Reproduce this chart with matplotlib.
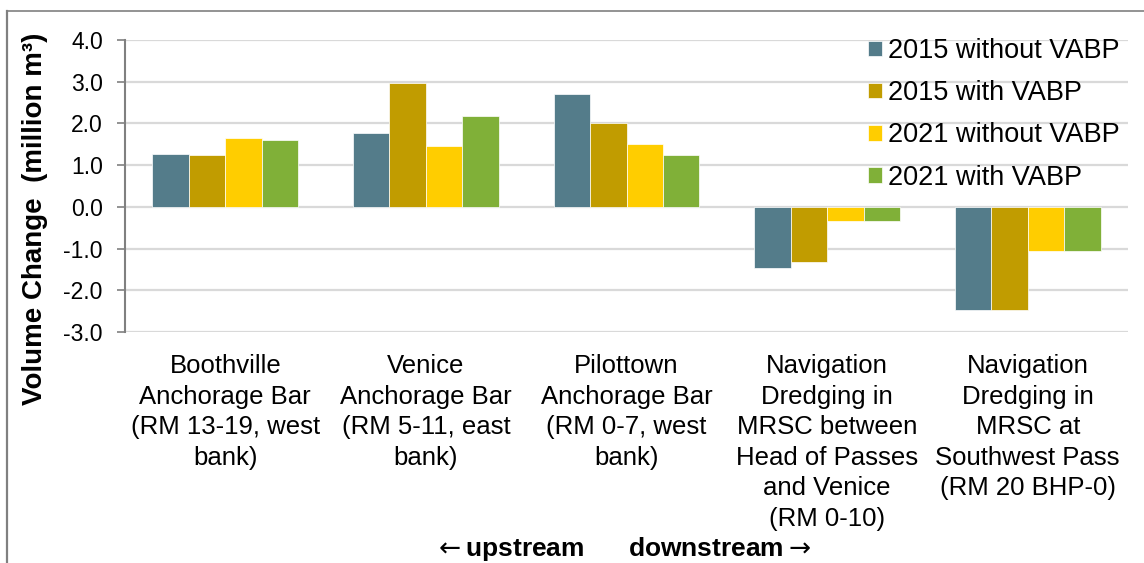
import numpy as np
import matplotlib.pyplot as plt
from matplotlib.lines import Line2D

plt.rcParams['font.family'] = ['Liberation Sans', 'DejaVu Sans']

# data
categories = [
    'Boothville\nAnchorage Bar\n(RM 13-19, west\nbank)',
    'Venice\nAnchorage Bar\n(RM 5-11, east\nbank)',
    'Pilottown\nAnchorage Bar\n(RM 0-7, west\nbank)',
    'Navigation\nDredging in\nMRSC between\nHead of Passes\nand Venice\n(RM 0-10)',
    'Navigation\nDredging in\nMRSC at\nSouthwest Pass\n(RM 20 BHP-0)',
]
series_names = ['2015 without VABP', '2015 with VABP', '2021 without VABP', '2021 with VABP']
v2015_without = [1.26, 1.76, 2.71, -1.46, -2.48]
v2015_with = [1.24, 2.97, 2.00, -1.33, -2.48]
v2021_without = [1.64, 1.46, 1.51, -0.35, -1.05]
v2021_with = [1.61, 2.17, 1.24, -0.35, -1.05]
yticks = [-3, -2, -1, 0, 1, 2, 3, 4]

colors = ['#547C8A', '#C19C00', '#FFCD00', '#80B038']

fig = plt.figure(figsize=(11.44, 5.63), dpi=100)
ax = fig.add_axes([125/1144, 1-332/563, (1128-125)/1144, (332-40)/563])

x = np.arange(len(categories))
w = 0.1815
all_series = [v2015_without, v2015_with, v2021_without, v2021_with]
for i, (vals, name, c) in enumerate(zip(all_series, series_names, colors)):
    ax.bar(x + (i - 1.5) * w, vals, width=w, color=c, label=name,
           edgecolor='white', linewidth=0.5, zorder=3)

ax.set_xlim(-0.5, 4.5)
ax.set_ylim(-3, 4)
ax.set_yticks(yticks)
ax.set_yticklabels([f'{t:.1f}' for t in yticks], fontsize=16.5)
ax.set_xticks(x)
ax.set_xticklabels(categories, fontsize=18.5, linespacing=1.34, va='top')
ax.tick_params(axis='x', length=0, pad=16)
ax.tick_params(axis='y', length=6, width=1.2, color='#808080', direction='out', pad=10)
ax.grid(axis='y', color='#D9D9D9', linewidth=1.6, zorder=0)
for s in ['top', 'right', 'bottom']:
    ax.spines[s].set_visible(False)
ax.spines['left'].set_color('#808080')
ax.spines['left'].set_linewidth(1.5)
ax.spines['left'].set_zorder(4)

leg = ax.legend(loc='upper right', bbox_to_anchor=(1120/1144, 1-38/563),
                bbox_transform=fig.transFigure, frameon=False, fontsize=19.5,
                handlelength=0.52, handleheight=0.5, handletextpad=0.22,
                labelspacing=0.6, borderpad=0, borderaxespad=0)

fig.text(35/1144, 1-219/563, 'Volume Change  (million m³)', rotation=90,
         fontsize=20, fontweight='bold', ha='center', va='center')
fig.text(622/1144, 1-549/563, r'$\leftarrow$upstream      downstream$\rightarrow$',
         fontsize=19, fontweight='bold', ha='center', va='center')

# outer frame (left and top edges)
fig.add_artist(Line2D([7/1144, 7/1144], [0, 1-11/563], transform=fig.transFigure,
                      color='#808080', linewidth=1.6))
fig.add_artist(Line2D([7/1144, 1], [1-11/563, 1-11/563], transform=fig.transFigure,
                      color='#808080', linewidth=1.2))

fig.savefig('out.png', dpi=100)
